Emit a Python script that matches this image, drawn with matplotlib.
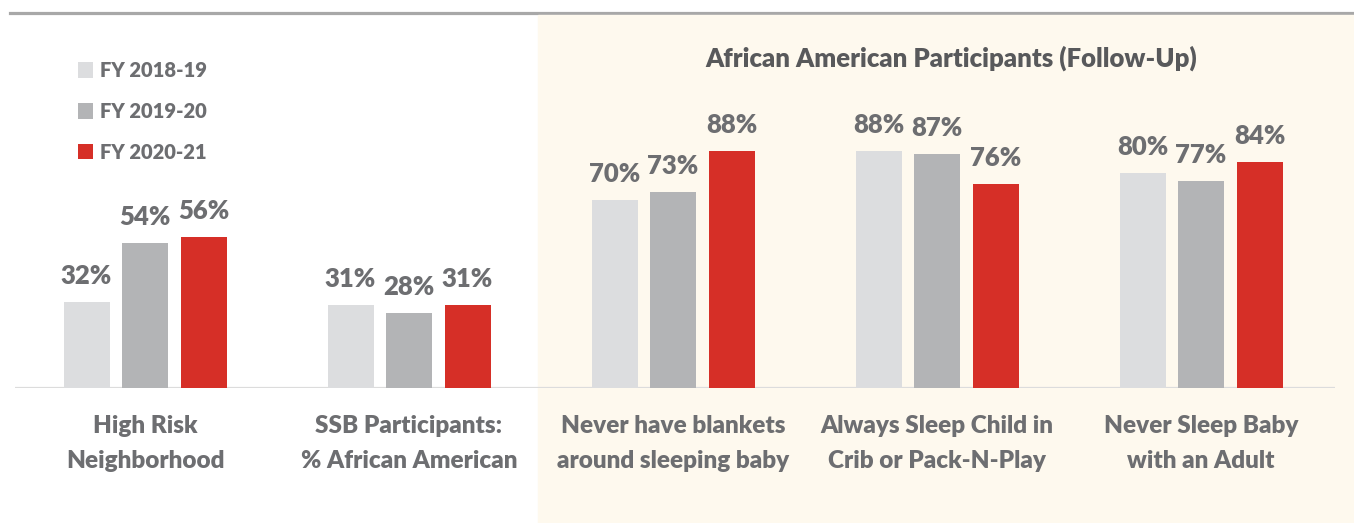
import matplotlib
matplotlib.use("Agg")
import matplotlib.pyplot as plt
from matplotlib.patches import Rectangle
from matplotlib.lines import Line2D

categories = [
    "High Risk\nNeighborhood",
    "SSB Participants:\n% African American",
    "Never have blankets\naround sleeping baby",
    "Always Sleep Child in\nCrib or Pack-N-Play",
    "Never Sleep Baby\nwith an Adult",
]
years = ["FY 2018-19", "FY 2019-20", "FY 2020-21"]
fy1819 = [32, 31, 70, 88, 80]
fy1920 = [54, 28, 73, 87, 77]
fy2021 = [56, 31, 88, 76, 84]
panel_title = "African American Participants (Follow-Up)"

colors = ["#dcdddf", "#b3b4b6", "#d62f27"]
text_col = "#6d6e71"
plt.rcParams["font.family"] = ["Lato", "DejaVu Sans"]
BOLD = "heavy"

W, H = 1354, 523
fig = plt.figure(figsize=(W / 100, H / 100), dpi=100)

# beige panel behind the follow-up groups, and rule along the top
fig.patches.append(Rectangle((538 / W, 0), 1 - 538 / W, (H - 15) / H,
                             transform=fig.transFigure, color="#fef9ee", zorder=-5))
fig.lines.append(Line2D([10 / W, 1], [(H - 13) / H] * 2, transform=fig.transFigure,
                        color="#a8a8a8", lw=2.3, zorder=-5))

base = 388
ax = fig.add_axes([15 / W, (H - base) / H, 1320 / W, 269 / H])
ax.patch.set_alpha(0)
ax.set_xlim(-130 / 264, 1190 / 264)
ax.set_ylim(0, 100)
for s in ax.spines.values():
    s.set_visible(False)
ax.set_xticks([])
ax.set_yticks([])
ax.axhline(0, color="#dcdcdc", lw=1.6, zorder=1)

width = 46 / 264
step = 58.5 / 264
bars = []
for k, vals in enumerate([fy1819, fy1920, fy2021]):
    xs = [i + (k - 1) * step for i in range(len(vals))]
    b = ax.bar(xs, vals, width, color=colors[k], label=years[k], zorder=2)
    bars.append(b)
    for x, v in zip(xs, vals):
        ax.annotate(f"{v}%", (x, v), xytext=(0, 13), textcoords="offset points",
                    ha="center", va="baseline", fontsize=18.5, fontweight=BOLD,
                    color=text_col)

for i, c in enumerate(categories):
    ax.text(i, -20.6, c, ha="center", va="center", fontsize=17.5,
            fontweight=BOLD, color=text_col, linespacing=1.7)

fig.text(951 / W, (H - 58) / H, panel_title, ha="center", va="center",
         fontsize=18.5, fontweight=BOLD, color="#58595b")

leg = fig.legend(handles=bars, loc="upper left", bbox_to_anchor=(60 / W, (H - 43) / H),
                 frameon=False, fontsize=14.5, handlelength=0.75, handleheight=0.8,
                 handletextpad=0.35, labelspacing=1.08)
for t in leg.get_texts():
    t.set_color(text_col)
    t.set_fontweight(BOLD)

fig.savefig("out.png", dpi=100)
